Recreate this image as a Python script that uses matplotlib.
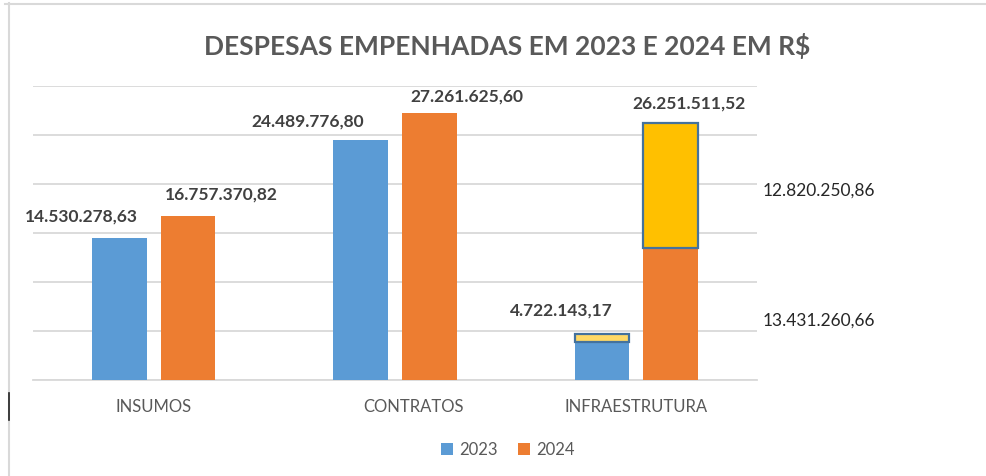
import matplotlib.pyplot as plt
from matplotlib.lines import Line2D
from matplotlib.transforms import ScaledTranslation
import numpy as np

# data
categories = ["INSUMOS", "CONTRATOS", "INFRAESTRUTURA"]
years = ["2023", "2024"]
vals_2023 = [14530278.63, 24489776.80, 3850000.00]   # infra blue part (estimated)
extra_2023 = [0, 0, 872143.17]                        # small yellow piece on top of infra 2023
vals_2024 = [16757370.82, 27261625.60, 13431260.66]
extra_2024 = [0, 0, 12820250.86]
total_2023 = [14530278.63, 24489776.80, 4722143.17]
total_2024 = [16757370.82, 27261625.60, 26251511.52]


def br(v):
    # brazilian number format 1.234.567,89
    s = f"{v:,.2f}"
    return s.replace(",", "X").replace(".", ",").replace("X", ".")


BLUE = "#5B9BD5"
ORANGE = "#ED7D31"
YELLOW = "#FFC000"
LIGHTYEL = "#FFD966"
EDGE = "#44729D"
GRID = "#D9D9D9"
TXT = "#595959"
LBL = "#404040"

plt.rcParams['font.family'] = ['Lato', 'DejaVu Sans']

fig = plt.figure(figsize=(9.86, 4.76), dpi=100)
ax = fig.add_axes([33/986, 1-380/476, 724/986, 294/476])

x = np.arange(len(categories))
w = 0.227
off = 0.1426

ax.bar(x - off, vals_2023, w, color=BLUE, label="2023", zorder=3)
ax.bar(x + off, vals_2024, w, color=ORANGE, label="2024", zorder=3)
# yellow stacked pieces (infraestrutura only)
ax.bar(x[2] - off, extra_2023[2], w, bottom=vals_2023[2], color=LIGHTYEL,
       edgecolor=EDGE, linewidth=1.6, zorder=4)
ax.bar(x[2] + off, extra_2024[2], w, bottom=vals_2024[2], color=YELLOW,
       edgecolor=EDGE, linewidth=1.6, zorder=4)

ax.set_ylim(0, 30e6)
ax.set_xlim(-0.5, 2.5)
ax.set_yticks(np.arange(0, 30e6 + 1, 5e6))
ax.yaxis.grid(True, color=GRID, linewidth=1.3, zorder=0)
ax.tick_params(axis='y', left=False, labelleft=False)
ax.tick_params(axis='x', length=0, pad=14, labelsize=12, labelcolor=TXT)
ax.set_xticks(x)
ax.set_xticklabels(categories)
# CONTRATOS label sits a bit right of its bars in the original
lab = ax.get_xticklabels()[1]
lab.set_transform(lab.get_transform() + ScaledTranslation(0.19, 0, fig.dpi_scale_trans))
for s in ["top", "right", "left"]:
    ax.spines[s].set_visible(False)
ax.spines["bottom"].set_color(GRID)
ax.spines["bottom"].set_linewidth(1.3)

# value labels (placed by hand like in the excel chart)
offs_2023 = [(-38, 13), (-53, 10), (-41, 15)]
offs_2024 = [(33, 13), (37, 8), (18, 11)]
for i in range(3):
    ax.annotate(br(total_2023[i]), (x[i] - off, total_2023[i]), xytext=offs_2023[i],
                textcoords="offset pixels", ha="center", va="bottom",
                fontsize=12.5, fontweight="bold", color=LBL)
    ax.annotate(br(total_2024[i]), (x[i] + off, total_2024[i]), xytext=offs_2024[i],
                textcoords="offset pixels", ha="center", va="bottom",
                fontsize=12.5, fontweight="bold", color=LBL)

# side labels for the infra 2024 split
fig.text(763/986, 1-191/476, br(extra_2024[2]), fontsize=12.5, color="#262626",
         ha="left", va="center")
fig.text(763/986, 1-321/476, br(vals_2024[2]), fontsize=12.5, color="#262626",
         ha="left", va="center")

fig.text(507/986, 1-46/476, "DESPESAS EMPENHADAS EM 2023 E 2024 EM R$",
         ha="center", va="center", fontsize=19, fontweight="bold", color=TXT)

fig.legend(loc="center", bbox_to_anchor=(508/986, 1-450/476), ncol=2, frameon=False,
           fontsize=12, labelcolor=TXT, handlelength=0.7, handleheight=0.7,
           columnspacing=1.2, handletextpad=0.4)

# chart area frame (light) and the little dark mark on the left
fig.add_artist(Line2D([9/986, 9/986], [0, 1-3/476], color=GRID, linewidth=1.5))
fig.add_artist(Line2D([5/986, 1], [1-4/476, 1-4/476], color=GRID, linewidth=1.5))
fig.add_artist(Line2D([9/986, 9/986], [1-393/476, 1-420/476], color="#222222", linewidth=1.2))

fig.savefig("out.png", dpi=100)
